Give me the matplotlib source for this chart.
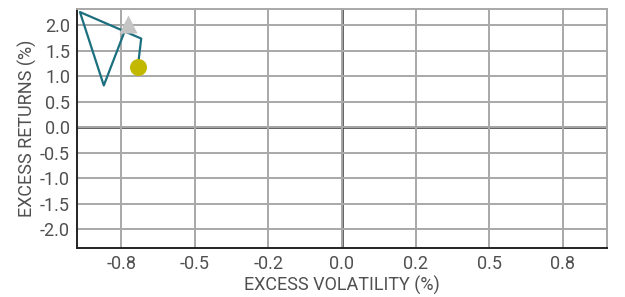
import matplotlib
matplotlib.use('Agg')
import matplotlib.pyplot as plt
from matplotlib.ticker import FormatStrFormatter

# excess volatility / excess returns path (%)
path_vol = [-0.739, -0.809, -0.89, -0.682, -0.692]
path_ret = [1.87, 0.82, 2.26, 1.74, 1.25]
# benchmark marker and current point
bench_vol = [-0.727]
bench_ret = [2.02]
current_vol = [-0.694]
current_ret = [1.18]

xticks = [-0.75, -0.5, -0.25, 0.0, 0.25, 0.5, 0.75]
yticks = [-2.0, -1.5, -1.0, -0.5, 0.0, 0.5, 1.0, 1.5, 2.0]

plt.rcParams['font.family'] = ['Roboto', 'DejaVu Sans']
text_color = '#505050'
grid_color = '#a8a8a8'

fig = plt.figure(figsize=(6.25, 2.97), dpi=100)
ax = fig.add_axes([0.1232, 0.165, 0.848, 0.8047])

ax.set_xlim(-0.9, 0.9)
ax.set_ylim(-2.37, 2.32)
ax.set_xticks(xticks)
ax.set_yticks(yticks)
ax.xaxis.set_major_formatter(FormatStrFormatter('%.1f'))
ax.yaxis.set_major_formatter(FormatStrFormatter('%.1f'))
ax.grid(True, color=grid_color, linewidth=1.4, zorder=0)
ax.axhline(0, color='#333333', linewidth=1.8, zorder=1)
ax.axvline(0, color='#333333', linewidth=1.8, zorder=1)

for s in ['top', 'right']:
    ax.spines[s].set_color(grid_color)
    ax.spines[s].set_linewidth(1.4)
for s in ['left', 'bottom']:
    ax.spines[s].set_color('#222222')
    ax.spines[s].set_linewidth(1.4)

ax.tick_params(length=0, pad=5, labelsize=13, labelcolor=text_color)

ax.plot(path_vol, path_ret, color='#1b6f7e', linewidth=1.6, zorder=3)
ax.scatter(bench_vol, bench_ret, marker='^', s=170, color='#c4c4c4', zorder=4, linewidths=0)
ax.scatter(current_vol, current_ret, marker='o', s=150, color='#c2b800', zorder=5, linewidths=0)

ax.set_xlabel('EXCESS VOLATILITY (%)', fontsize=13, color=text_color, labelpad=2)
ax.set_ylabel('EXCESS RETURNS (%)', fontsize=13, color=text_color)
ax.yaxis.set_label_coords(-0.075, 0.5)

plt.savefig('out.png', dpi=100)
